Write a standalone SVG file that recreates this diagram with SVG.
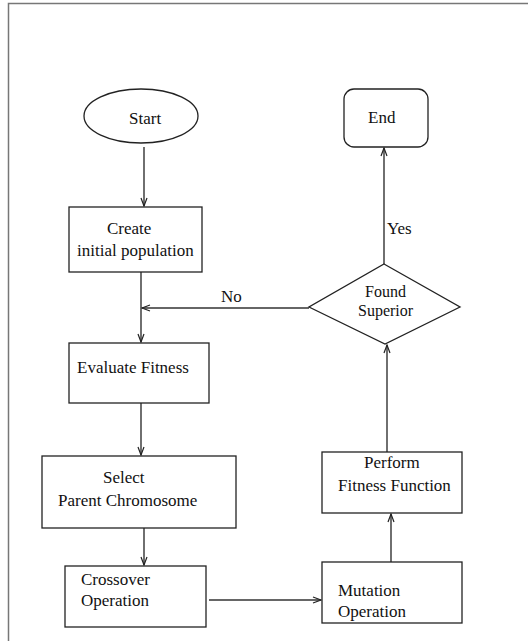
<svg xmlns="http://www.w3.org/2000/svg" width="528" height="641" viewBox="0 0 528 641">
<defs>
<style>
.n{fill:#fff;stroke:#222;stroke-width:1.3}
.t{font-family:"Liberation Serif","Times New Roman",serif;font-size:17px;fill:#111}
.s{font-size:16px}
.c{fill:none;stroke:#333;stroke-width:1.4}
</style>
<marker id="ah" markerWidth="10" markerHeight="8" refX="9" refY="4" orient="auto" markerUnits="userSpaceOnUse">
<path d="M1,1 L9,4 L1,7" fill="none" stroke="#222" stroke-width="1.2"/>
</marker>
</defs>
<rect width="528" height="641" fill="#fff"/>
<path d="M8.5,645 V3.5 H540" fill="none" stroke="#777" stroke-width="1.5"/>
<g id="connectors">
<line class="c" x1="144" y1="147" x2="144" y2="206" marker-end="url(#ah)"/>
<line class="c" x1="141" y1="272" x2="141" y2="342" marker-end="url(#ah)"/>
<line class="c" x1="309" y1="308" x2="142" y2="308" marker-end="url(#ah)"/>
<line class="c" x1="384" y1="264" x2="384" y2="148" marker-end="url(#ah)"/>
<line class="c" x1="141" y1="403" x2="141" y2="455" marker-end="url(#ah)"/>
<line class="c" x1="144" y1="528" x2="144" y2="565" marker-end="url(#ah)"/>
<line class="c" x1="209" y1="600" x2="321" y2="600" marker-end="url(#ah)"/>
<line class="c" x1="391" y1="562" x2="391" y2="514" marker-end="url(#ah)"/>
<line class="c" x1="387" y1="452" x2="387" y2="345" marker-end="url(#ah)"/>
<text class="t" x="221" y="302">No</text>
<text class="t" x="387" y="234">Yes</text>
</g>
<g id="start">
<ellipse class="n" cx="141" cy="116" rx="57" ry="27"/>
<text class="t" x="129" y="124">Start</text>
</g>
<g id="end">
<rect class="n" x="344" y="89" width="84" height="58" rx="10"/>
<text class="t" x="368" y="123">End</text>
</g>
<g id="create">
<rect class="n" x="69" y="207" width="133" height="65"/>
<text class="t" x="107" y="234">Create</text>
<text class="t" x="77" y="256">initial population</text>
</g>
<g id="found">
<polygon class="n" points="384,264 460,307 385,344 309,307"/>
<text class="t s" x="365" y="297">Found</text>
<text class="t s" x="358" y="316">Superior</text>
</g>
<g id="evaluate">
<rect class="n" x="69" y="343" width="140" height="60"/>
<text class="t" x="77" y="373">Evaluate Fitness</text>
</g>
<g id="select">
<rect class="n" x="42" y="456" width="194" height="72"/>
<text class="t" x="103" y="483">Select</text>
<text class="t" x="58" y="506">Parent Chromosome</text>
</g>
<g id="crossover">
<rect class="n" x="65" y="566" width="141" height="61"/>
<text class="t" x="81" y="585">Crossover</text>
<text class="t" x="81" y="606">Operation</text>
</g>
<g id="mutation">
<rect class="n" x="322" y="562" width="140" height="61"/>
<text class="t" x="338" y="596">Mutation</text>
<text class="t" x="338" y="617">Operation</text>
</g>
<g id="perform">
<rect class="n" x="322" y="452" width="140" height="61"/>
<text class="t" x="364" y="468">Perform</text>
<text class="t" x="338" y="491">Fitness Function</text>
</g>
</svg>
